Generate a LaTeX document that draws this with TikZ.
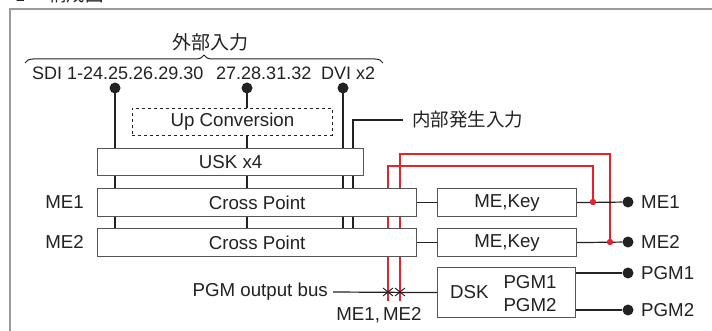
\documentclass[tikz,border=0pt]{standalone}
\usepackage{fontspec}
\setmainfont{Liberation Sans}
\newfontfamily\jp{Noto Sans CJK JP}
\usetikzlibrary{decorations.pathreplacing}
\definecolor{rd}{HTML}{E8212B}
\definecolor{bx}{HTML}{555555}
\definecolor{fr}{HTML}{9A9A9A}
\definecolor{ink}{HTML}{222222}
\pgfdeclarelayer{bg}
\pgfdeclarelayer{paper}
\pgfsetlayers{paper,bg,main}
\begin{document}
\begin{tikzpicture}[x=1pt,y=-1pt,
  font=\fontsize{18.7}{21}\selectfont, text=ink,
  blk/.style={draw=bx, line width=1.2pt, fill=white, inner sep=0pt, anchor=north west},
  dash box/.style={draw=ink, dashed, line width=0.9pt, fill=white, inner sep=0pt, anchor=north west},
  ln/.style={draw=ink, line width=1.2pt},
  rl/.style={draw=rd, line width=1.5pt},
  dot/.style={circle, fill=ink, inner sep=0pt, minimum size=11pt},
  rdot/.style={circle, fill=rd, inner sep=0pt, minimum size=6pt},
  lbl/.style={inner sep=0pt},
  top/.style={inner sep=0pt, font=\fontsize{18}{20}\selectfont},
  jpl/.style={inner sep=0pt, font=\jp\fontsize{18.5}{20}\selectfont}]
\useasboundingbox (0,0) rectangle (712,331);
\begin{pgfonlayer}{paper}
  \fill[white] (0,0) rectangle (712,331);
\end{pgfonlayer}
% frame and cut header
\draw[fr, line width=2.2pt] (10,334) -- (10,9) -- (714,9);
\node[jpl, anchor=base west] (hdr1) at (15,1.5) {1};
\node[jpl, anchor=base west] (hdr2) at (48,1.5) {構成図};
% title and brace
\node[jpl, font=\jp\fontsize{19}{20}\selectfont] (ext) at (210,42) {外部入力};
\draw[ink, line width=1pt, decorate, decoration={brace, amplitude=8pt}] (25,63) -- (383,63);
\node[top, anchor=west] (s1) at (32,73) {SDI 1-24.25.26.29.30};
\node[top, anchor=west] (s2) at (216,73) {27.28.31.32};
\node[top, anchor=west] (s3) at (321,73) {DVI x2};
% dots
\node[dot] (d1) at (115,88) {};
\node[dot] (d2) at (247,88) {};
\node[dot] (d3) at (343,88) {};
% boxes
\node[dash box, minimum width=200pt, minimum height=27pt] (up) at (132,108) {};
\node[lbl] (uptxt) at (up.center) {Up Conversion};
\node[blk, minimum width=266pt, minimum height=27pt] (usk) at (97,148) {};
\node[lbl] at (usk.center) {USK x4};
\node[blk, minimum width=319pt, minimum height=28pt] (cp1) at (97,188) {};
\node[lbl] at (cp1.center) {Cross Point};
\node[blk, minimum width=319pt, minimum height=28pt] (cp2) at (97,228) {};
\node[lbl] at (cp2.center) {Cross Point};
\node[blk, minimum width=139pt, minimum height=28pt] (mk1) at (437,188) {};
\node[lbl] at (mk1.center) {ME,Key};
\node[blk, minimum width=139pt, minimum height=28pt] (mk2) at (437,228) {};
\node[lbl] at (mk2.center) {ME,Key};
\node[blk, minimum width=138pt, minimum height=50pt] (dsk) at (437,267) {};
\node[lbl, anchor=west] (dsktxt) at (450,292) {DSK};
\node[lbl] (p1in) at (530,282) {PGM1};
\node[lbl] (p2in) at (530,305) {PGM2};
\node[lbl, anchor=east] (me1l) at (84,202) {ME1};
\node[lbl, anchor=east] (me2l) at (84,242) {ME2};
\node[jpl, anchor=west] (intl) at (412,120) {内部発生入力};
\node[lbl, anchor=east] (bus) at (328,292) {PGM output bus};
\node[lbl] (mel) at (379,315) {ME1,\,ME2};
% output dots
\node[dot] (o1) at (628,202) {};
\node[dot] (o2) at (628,242) {};
\node[dot] (o3) at (628,273) {};
\node[dot] (o4) at (628,310) {};
\node[lbl, anchor=west] at (641,202) {ME1};
\node[lbl, anchor=west] at (641,242) {ME2};
\node[lbl, anchor=west] at (641,273) {PGM1};
\node[lbl, anchor=west] at (641,310) {PGM2};
\node[rdot] (r1) at (593,202) {};
\node[rdot] (r2) at (610,242) {};
\coordinate (ic) at (353,120);
\coordinate (ra) at (388,301);
\coordinate (rb) at (400,301);
\coordinate (ta) at (593,166);
\coordinate (tb) at (610,154);
\coordinate (xa) at (388,292);
\coordinate (xb) at (400,292);
\begin{pgfonlayer}{bg}
  \draw[ln] (d1.center) -- (d1.center |- cp2.north);
  \draw[ln] (d2.center) -- (d2.center |- cp2.north);
  \draw[ln] (d3.center) -- (d3.center |- cp2.north);
  \draw[ln] ([xshift=-9pt]intl.west) -- (ic) -- (ic |- cp2.north);
  \draw[rl] (ra) |- (ta) -- (r1);
  \draw[rl] (rb) |- (tb) -- (r2);
\end{pgfonlayer}
\draw[ln] (cp1.east) -- (mk1.west);
\draw[ln] (cp2.east) -- (mk2.west);
\draw[ln] (mk1.east) -- (o1);
\draw[ln] (mk2.east) -- (o2);
\draw[ln] (dsk.east |- o3) -- (o3);
\draw[ln] (dsk.east |- o4) -- (o4);
\draw[ln] ([xshift=5pt]bus.east) -- (dsk.west);
\foreach \c in {xa,xb}{
  \draw[ink, line width=0.9pt] ([shift={(-5,-4)}]\c) -- ([shift={(5,4)}]\c);
  \draw[ink, line width=0.9pt] ([shift={(-5,4)}]\c) -- ([shift={(5,-4)}]\c);
}
\node[rdot] at (r1) {};
\node[rdot] at (r2) {};
\end{tikzpicture}
\end{document}
